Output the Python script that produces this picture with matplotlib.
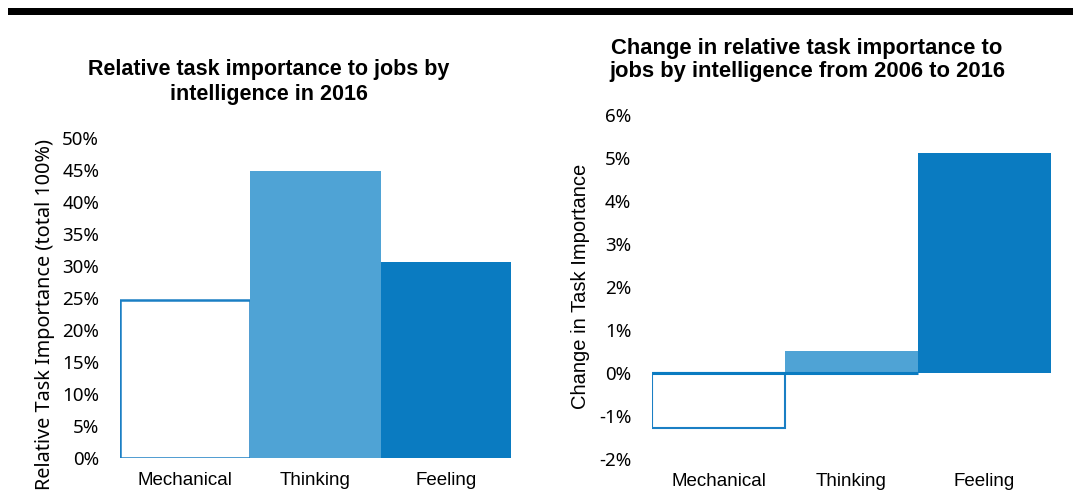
import matplotlib
matplotlib.use("Agg")
import matplotlib.pyplot as plt
from matplotlib.ticker import FuncFormatter
from matplotlib.patches import Rectangle

categories = ["Mechanical", "Thinking", "Feeling"]
share_2016 = [0.247, 0.448, 0.307]
change_2006_2016 = [-0.0128, 0.0052, 0.0512]
left_ticks = [0, 0.05, 0.10, 0.15, 0.20, 0.25, 0.30, 0.35, 0.40, 0.45, 0.50]
right_ticks = [-0.02, -0.01, 0, 0.01, 0.02, 0.03, 0.04, 0.05, 0.06]

light = "#4fa3d5"
dark = "#0a7bc1"
edge = "#1a7fc4"

fig = plt.figure(figsize=(10.73, 5.03), dpi=100)

# top black band
fig.patches.append(Rectangle((8/1073, 1-15/503), 1, 7/503, transform=fig.transFigure,
                             facecolor="black", edgecolor="none"))

tick_font = "Noto Sans"
cat_font = "Liberation Sans"
pct = FuncFormatter(lambda v, p: f"{round(v*100):d}%")

def style(ax, ticks, ylim):
    ax.set_ylim(*ylim)
    ax.set_xlim(-0.5, 2.5)
    ax.set_yticks(ticks)
    ax.yaxis.set_major_formatter(pct)
    ax.set_xticks(range(len(categories)))
    ax.set_xticklabels(categories, fontfamily=cat_font, fontsize=13.5)
    for lab in ax.get_yticklabels():
        lab.set_fontfamily(tick_font)
        lab.set_fontsize(13.5)
    ax.tick_params(axis="y", length=0, pad=15)
    ax.tick_params(axis="x", length=0, pad=10)
    for s in ax.spines.values():
        s.set_visible(False)

# Left chart
ax1 = fig.add_axes([120/1073, 1-458/503, 391/1073, 320/503])
ax1.bar(0, share_2016[0], width=1.0, facecolor="white", edgecolor=edge, linewidth=1.8)
ax1.bar(1, share_2016[1], width=1.0, facecolor=light, edgecolor="none")
ax1.bar(2, share_2016[2], width=1.0, facecolor=dark, edgecolor="none")
style(ax1, left_ticks, (0, 0.5))
fig.text(269/1073, 1-82/503, "Relative task importance to jobs by\nintelligence in 2016",
         ha="center", va="center", fontfamily="Liberation Sans", fontweight="bold",
         fontsize=15.5, linespacing=1.25)
fig.text(45/1073, 1-315/503, "Relative Task Importance (total 100%)", rotation=90,
         ha="center", va="center", fontfamily=tick_font, fontsize=14.3)

# Right chart
ax2 = fig.add_axes([652/1073, 1-459/503, 399/1073, 344/503])
ax2.bar(0, change_2006_2016[0], width=1.0, facecolor="white", edgecolor=edge, linewidth=1.5)
ax2.bar(1, change_2006_2016[1], width=1.0, facecolor=light, edgecolor="none")
ax2.bar(2, change_2006_2016[2], width=1.0, facecolor=dark, edgecolor="none")
ax2.plot([-0.5, 1.5], [0, 0], color=dark, linewidth=2.2, solid_capstyle="butt")
style(ax2, right_ticks, (-0.02, 0.06))
fig.text(807/1073, 1-60/503, "Change in relative task importance to\njobs by intelligence from 2006 to 2016",
         ha="center", va="center", fontfamily="Liberation Sans", fontweight="bold",
         fontsize=15.8, linespacing=1.1)
fig.text(580/1073, 1-286/503, "Change in Task Importance", rotation=90,
         ha="center", va="center", fontfamily="Liberation Sans", fontsize=14.5)

fig.savefig("out.png", dpi=100)
